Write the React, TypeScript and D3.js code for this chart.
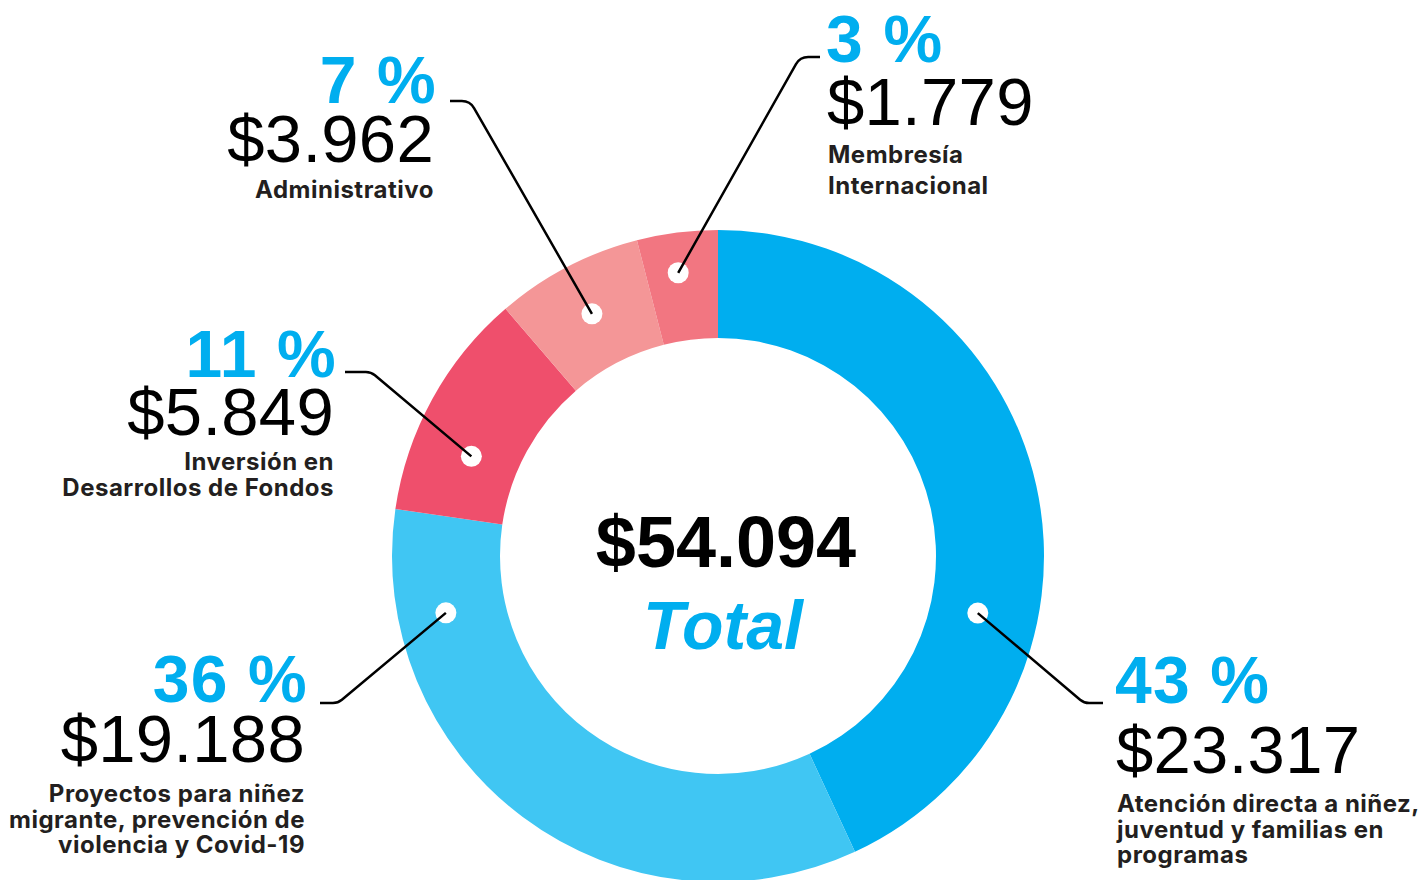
import React, { useEffect, useRef } from 'react';
import * as d3 from 'd3';

// chart data
const categories = [
	['Atención directa a niñez,', 'juventud y familias en', 'programas'],
	['Proyectos para niñez', 'migrante, prevención de', 'violencia y Covid-19'],
	['Inversión en', 'Desarrollos de Fondos'],
	['Administrativo'],
	['Membresía', 'Internacional'],
];
const amounts = ['$23.317', '$19.188', '$5.849', '$3.962', '$1.779'];
const percents = ['43 %', '36 %', '11 %', '7 %', '3 %'];
// share of the ring as it is drawn in the original (not exactly proportional)
const ringShare = [43.1, 34.2, 11.4, 7.3, 4.0];
const colors = ['#00aeef', '#40c6f3', '#ef4f6c', '#f49697', '#f27681'];
const totalLabel = '$54.094';
const totalCaption = 'Total';

// annotation layout: dot on the ring, elbow corner, end of leader, text block
const layout = [
	{ dotAngle: 102.4, dotR: 266, corner: [1084, 703], end: [1103, 703], side: 'right', x: 1115, pctY: 703, valY: 773, catY: 812, lh: 25.5 },
	{ dotAngle: 258.2, dotR: 278, corner: [338, 703], end: [320, 703], side: 'left', x: 308, pctY: 702, valY: 762, catY: 802, lh: 25.5 },
	{ dotAngle: 292, dotR: 266, corner: [371, 372], end: [345, 372], side: 'left', x: 337, pctY: 377, valY: 435, catY: 470, lh: 26 },
	{ dotAngle: 332.5, dotR: 273, corner: [470, 101], end: [450, 101], side: 'left', x: 437, pctY: 103, valY: 162, catY: 198, lh: 30 },
	{ dotAngle: 352, dotR: 286, corner: [800, 57], end: [820, 57], side: 'right', x: 826, pctY: 62, valY: 125, catY: 163, lh: 31 },
];

const W = 1422;
const H = 880;
const cx = 718;
const cy = 556;
const outerR = 326;
const innerR = 218;

export default function App() {
	const ref = useRef<SVGSVGElement>(null);

	useEffect(() => {
		const svg = d3.select(ref.current);
		svg.selectAll('*').remove();

		const pie = d3
			.pie<number>()
			.sort(null)
			.value(d => d);
		const arcs = pie(ringShare);
		const arc = d3
			.arc<d3.PieArcDatum<number>>()
			.innerRadius(innerR)
			.outerRadius(outerR);

		const g = svg.append('g').attr('transform', `translate(${cx},${cy})`);
		g.selectAll('path.slice')
			.data(arcs)
			.enter()
			.append('path')
			.attr('class', 'slice')
			.attr('fill', (d, i) => colors[i])
			.attr('d', arc);

		// leaders
		const toRad = (deg: number) => (deg * Math.PI) / 180;
		const dotPos = (l: typeof layout[number]) => [
			cx + l.dotR * Math.sin(toRad(l.dotAngle)),
			cy - l.dotR * Math.cos(toRad(l.dotAngle)),
		];

		layout.forEach((l, i) => {
			const [dx, dy] = dotPos(l);
			svg.append('circle')
				.attr('cx', dx)
				.attr('cy', dy)
				.attr('r', 10.5)
				.attr('fill', '#fff');
			const p = d3.path();
			p.moveTo(dx, dy);
			p.arcTo(l.corner[0], l.corner[1], l.end[0], l.end[1], 14);
			p.lineTo(l.end[0], l.end[1]);
			svg.append('path')
				.attr('d', p.toString())
				.attr('fill', 'none')
				.attr('stroke', '#000')
				.attr('stroke-width', 2.5);

			const left = l.side === 'left';
			const anchor = left ? 'end' : 'start';
			svg.append('text')
				.attr('x', l.x)
				.attr('y', l.pctY)
				.attr('text-anchor', anchor)
				.attr('font-family', '"Liberation Sans", Arial, sans-serif')
				.attr('font-weight', 700)
				.attr('font-size', 66)
				.attr('letter-spacing', 1.2)
				.attr('fill', '#00aeef')
				.text(percents[i]);
			svg.append('text')
				.attr('x', l.x + (left ? -3 : 1))
				.attr('y', l.valY)
				.attr('text-anchor', anchor)
				.attr('font-family', '"Liberation Sans", Arial, sans-serif')
				.attr('font-weight', 400)
				.attr('font-size', 67)
				.attr('letter-spacing', 0.3)
				.attr('fill', '#000')
				.text(amounts[i]);
			const cat = svg.append('text')
				.attr('text-anchor', anchor)
				.attr('font-family', 'Inter, "Noto Sans", sans-serif')
				.attr('font-weight', 700)
				.attr('font-size', 24)
				.attr('letter-spacing', 0.5)
				.attr('fill', '#231f20');
			categories[i].forEach((line, j) => {
				cat.append('tspan')
					.attr('x', l.x + (left ? -3 : 2))
					.attr('y', l.catY + j * l.lh)
					.text(line);
			});
		});

		// centre total
		svg.append('text')
			.attr('x', cx + 8)
			.attr('y', 567)
			.attr('text-anchor', 'middle')
			.attr('font-family', '"Liberation Sans", Arial, sans-serif')
			.attr('font-weight', 700)
			.attr('font-size', 72)
			.attr('fill', '#000')
			.text(totalLabel);
		svg.append('text')
			.attr('x', cx + 5)
			.attr('y', 649)
			.attr('text-anchor', 'middle')
			.attr('font-family', '"Liberation Sans", Arial, sans-serif')
			.attr('font-weight', 700)
			.attr('font-style', 'italic')
			.attr('font-size', 68)
			.attr('fill', '#00aeef')
			.text(totalCaption);
	}, []);

	return (
		<svg
			ref={ref}
			width={W}
			height={H}
			style={{ position: 'absolute', left: 0, top: 0, display: 'block', background: '#fff' }}
		/>
	);
}
